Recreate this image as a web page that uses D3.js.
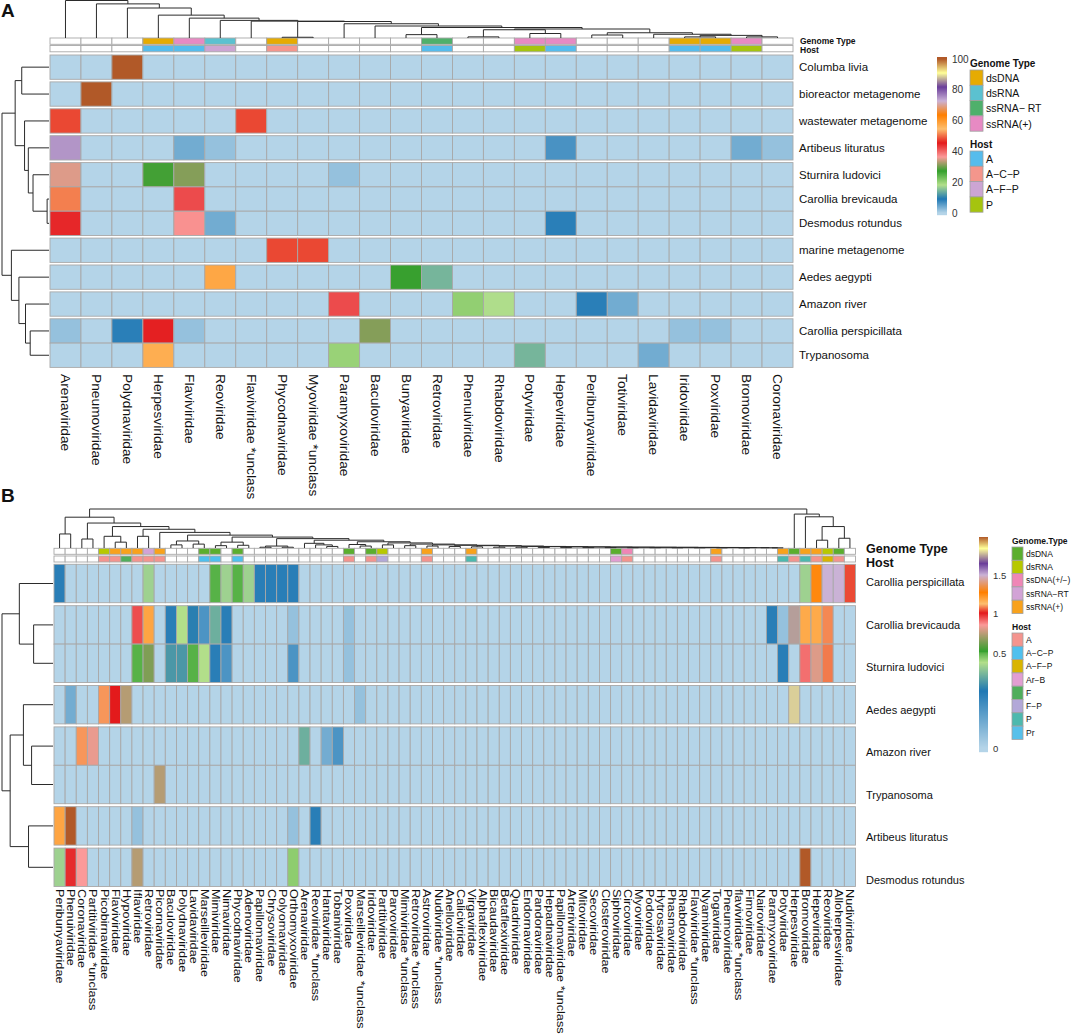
<!DOCTYPE html>
<html>
<head>
<meta charset="utf-8">
<title>Virus family heatmaps</title>
<script src="https://cdn.jsdelivr.net/npm/d3@7"></script>
<style>
  body { margin: 0; background: #fff; }
  svg text { font-family: "Liberation Sans", Arial, Helvetica, sans-serif; fill: #111; }
</style>
</head>
<body>
<svg id="chart" width="1072" height="1036"></svg>
<script>
// ---------- panel A data ----------
const colsA = ["Arenaviridae", "Pneumoviridae", "Polydnaviridae", "Herpesviridae", "Flaviviridae",
  "Reoviridae", "Flaviviridae *unclass", "Phycodnaviridae", "Myoviridae *unclass", "Paramyxoviridae",
  "Baculoviridae", "Bunyaviridae", "Retroviridae", "Phenuiviridae", "Rhabdoviridae", "Potyviridae",
  "Hepeviridae", "Peribunyaviridae", "Totiviridae", "Lavidaviridae", "Iridoviridae", "Poxviridae",
  "Bromoviridae", "Coronaviridae"];
const rowsA = ["Columba livia", "bioreactor metagenome", "wastewater metagenome", "Artibeus lituratus",
  "Sturnira ludovici", "Carollia brevicauda", "Desmodus rotundus", "marine metagenome", "Aedes aegypti",
  "Amazon river", "Carollia perspicillata", "Trypanosoma"];
const rowGroupsA = [0, 1, 2, 3, 4, 4, 4, 5, 6, 7, 8, 8];
// [row, column, value]; cells not listed are 0
const cellsA = [
  ["Columba livia", "Polydnaviridae", 100],
  ["bioreactor metagenome", "Pneumoviridae", 100],
  ["wastewater metagenome", "Arenaviridae", 48],
  ["wastewater metagenome", "Flaviviridae *unclass", 48],
  ["Artibeus lituratus", "Arenaviridae", 75],
  ["Artibeus lituratus", "Flaviviridae", 4],
  ["Artibeus lituratus", "Reoviridae", 1.9],
  ["Artibeus lituratus", "Hepeviridae", 6.5],
  ["Artibeus lituratus", "Bromoviridae", 4],
  ["Artibeus lituratus", "Coronaviridae", 1.9],
  ["Sturnira ludovici", "Arenaviridae", 35],
  ["Sturnira ludovici", "Herpesviridae", 28],
  ["Sturnira ludovici", "Flaviviridae", 31],
  ["Sturnira ludovici", "Paramyxoviridae", 1.9],
  ["Carollia brevicauda", "Arenaviridae", 51],
  ["Carollia brevicauda", "Flaviviridae", 42],
  ["Desmodus rotundus", "Arenaviridae", 44.5],
  ["Desmodus rotundus", "Flaviviridae", 37],
  ["Desmodus rotundus", "Reoviridae", 4],
  ["Desmodus rotundus", "Hepeviridae", 8.4],
  ["marine metagenome", "Phycodnaviridae", 48],
  ["marine metagenome", "Myoviridae *unclass", 48],
  ["Aedes aegypti", "Reoviridae", 58],
  ["Aedes aegypti", "Bunyaviridae", 27.5],
  ["Aedes aegypti", "Retroviridae", 14.5],
  ["Amazon river", "Paramyxoviridae", 42],
  ["Amazon river", "Phenuiviridae", 20.5],
  ["Amazon river", "Rhabdoviridae", 18],
  ["Amazon river", "Peribunyaviridae", 8.4],
  ["Amazon river", "Totiviridae", 4],
  ["Carollia perspicillata", "Arenaviridae", 1.9],
  ["Carollia perspicillata", "Polydnaviridae", 8.4],
  ["Carollia perspicillata", "Herpesviridae", 45],
  ["Carollia perspicillata", "Flaviviridae", 1.9],
  ["Carollia perspicillata", "Baculoviridae", 31],
  ["Carollia perspicillata", "Iridoviridae", 1.9],
  ["Carollia perspicillata", "Poxviridae", 1.9],
  ["Trypanosoma", "Herpesviridae", 57],
  ["Trypanosoma", "Paramyxoviridae", 20],
  ["Trypanosoma", "Potyviridae", 14.5],
  ["Trypanosoma", "Lavidaviridae", 4]
];
const genomeA = { "Herpesviridae": "dsDNA", "Flaviviridae": "ssRNA(+)", "Reoviridae": "dsRNA",
  "Phycodnaviridae": "dsDNA", "Retroviridae": "ssRNA− RT", "Potyviridae": "ssRNA(+)",
  "Hepeviridae": "ssRNA(+)", "Iridoviridae": "dsDNA", "Poxviridae": "dsDNA", "Bromoviridae": "ssRNA(+)" };
const hostA = { "Herpesviridae": "A", "Flaviviridae": "A", "Reoviridae": "A−F−P",
  "Phycodnaviridae": "A−C−P", "Retroviridae": "A", "Potyviridae": "P",
  "Hepeviridae": "A", "Iridoviridae": "A", "Poxviridae": "A", "Bromoviridae": "P" };
const genomeKeysA = ["dsDNA", "dsRNA", "ssRNA− RT", "ssRNA(+)"];
const genomeColorsA = ["#E6AB02", "#5BC1D0", "#4FB06B", "#E78AC3"];
const hostKeysA = ["A", "A−C−P", "A−F−P", "P"];
const hostColorsA = ["#56BCEC", "#F4968C", "#CCA5D3", "#A5C40F"];
const ticksA = [0, 20, 40, 60, 80, 100];
// dendrograms: [height, left, right], leaves are indices into the column / row lists
const colTreeA = [100, 0, [91, 1, [80, 2, [61, 3, [53, 4, [47, 5, [45, 6, [44, [2, 7, 8],
  [38, 9, [32, 10, [28, [9, 11, 12], [24, [22, [3, 13, 14], [12, 15, 16]],
  [14, [8, 17, 18], [10, 19, [7, [3, 20, 21], [3, 22, 23]]]]]]]]]]]]]]]];
const rowTreeA = [100, [72, [58, 0, 1], [52, 2, [44, 3, [34, 4, [4, 5, 6]]]]],
  [80, 7, [64, 8, [50, 9, [40, 10, 11]]]]];

// ---------- panel B data ----------
const colsB = ["Peribunyaviridae", "Phenuiviridae", "Coronaviridae", "Partitiviridae *unclass",
  "Picobirnaviridae", "Flaviviridae", "Hypoviridae", "Iflaviridae", "Retroviridae", "Picornaviridae",
  "Baculoviridae", "Polydnaviridae", "Lavidaviridae", "Marseilleviridae", "Mimiviridae", "Nimaviridae",
  "Phycodnaviridae", "Adenoviridae", "Papillomaviridae", "Chrysoviridae", "Polyomaviridae",
  "Orthomyxoviridae", "Arenaviridae", "Reoviridae *unclass", "Hantaviridae", "Tobaniviridae",
  "Poxviridae", "Marseilleviridae *unclass", "Iridoviridae", "Partitiviridae", "Parvoviridae",
  "Mimiviridae *unclass", "Retroviridae *unclass", "Astroviridae", "Nudiviridae *unclass",
  "Anelloviridae", "Caliciviridae", "Virgaviridae", "Alphaflexiviridae", "Bicaudaviridae",
  "Betaflexiviridae", "Quadriviridae", "Endornaviridae", "Pandoraviridae", "Hepadnaviridae",
  "Papillomaviridae *unclass", "Arteriviridae", "Mitoviridae", "Secoviridae", "Closteroviridae",
  "Siphoviridae", "Circoviridae", "Myoviridae", "Podoviridae", "Hytrosaviridae", "Phasmaviridae",
  "Rhabdoviridae", "Flaviviridae *unclass", "Nyamiviridae", "Togaviridae", "Pneumoviridae",
  "flaviviridae *unclass", "Fimoviridae", "Nairoviridae", "Paramyxoviridae", "Potyviridae",
  "Herpesviridae", "Bromoviridae", "Hepeviridae", "Reoviridae", "Alloherpesviridae", "Nudiviridae"];
const rowsB = ["Carollia perspicillata", "Carollia brevicauda", "Sturnira ludovici", "Aedes aegypti",
  "Amazon river", "Trypanosoma", "Artibeus lituratus", "Desmodus rotundus"];
const rowGroupsB = [0, 1, 1, 2, 3, 3, 4, 5];
const cellsB = [
  ["Carollia perspicillata", "Peribunyaviridae", 0.28],
  ["Carollia perspicillata", "Retroviridae", 0.43],
  ["Carollia perspicillata", "Mimiviridae", 0.5],
  ["Carollia perspicillata", "Nimaviridae", 0.43],
  ["Carollia perspicillata", "Phycodnaviridae", 0.5],
  ["Carollia perspicillata", "Adenoviridae", 0.43],
  ["Carollia perspicillata", "Papillomaviridae", 0.28],
  ["Carollia perspicillata", "Chrysoviridae", 0.28],
  ["Carollia perspicillata", "Polyomaviridae", 0.28],
  ["Carollia perspicillata", "Orthomyxoviridae", 0.28],
  ["Carollia perspicillata", "Bromoviridae", 0.43],
  ["Carollia perspicillata", "Hepeviridae", 1.25],
  ["Carollia perspicillata", "Reoviridae", 1.5],
  ["Carollia perspicillata", "Alloherpesviridae", 1.5],
  ["Carollia perspicillata", "Nudiviridae", 1.035],
  ["Carollia brevicauda", "Iflaviridae", 0.94],
  ["Carollia brevicauda", "Retroviridae", 1.18],
  ["Carollia brevicauda", "Baculoviridae", 0.28],
  ["Carollia brevicauda", "Polydnaviridae", 0.45],
  ["Carollia brevicauda", "Lavidaviridae", 0.31],
  ["Carollia brevicauda", "Marseilleviridae", 0.21],
  ["Carollia brevicauda", "Mimiviridae", 0.38],
  ["Carollia brevicauda", "Nimaviridae", 0.28],
  ["Carollia brevicauda", "Orthomyxoviridae", 0.063],
  ["Carollia brevicauda", "Poxviridae", 0.063],
  ["Carollia brevicauda", "Paramyxoviridae", 0.28],
  ["Carollia brevicauda", "Potyviridae", 0.063],
  ["Carollia brevicauda", "Herpesviridae", 1.75],
  ["Carollia brevicauda", "Bromoviridae", 1.17],
  ["Carollia brevicauda", "Hepeviridae", 1.17],
  ["Carollia brevicauda", "Reoviridae", 1.08],
  ["Sturnira ludovici", "Iflaviridae", 0.5],
  ["Sturnira ludovici", "Retroviridae", 0.645],
  ["Sturnira ludovici", "Baculoviridae", 0.345],
  ["Sturnira ludovici", "Polydnaviridae", 0.345],
  ["Sturnira ludovici", "Lavidaviridae", 0.5],
  ["Sturnira ludovici", "Marseilleviridae", 0.45],
  ["Sturnira ludovici", "Mimiviridae", 0.28],
  ["Sturnira ludovici", "Nimaviridae", 0.21],
  ["Sturnira ludovici", "Orthomyxoviridae", 0.21],
  ["Sturnira ludovici", "Poxviridae", 0.063],
  ["Sturnira ludovici", "Potyviridae", 0.28],
  ["Sturnira ludovici", "Bromoviridae", 0.9],
  ["Sturnira ludovici", "Hepeviridae", 0.8],
  ["Sturnira ludovici", "Reoviridae", 1.07],
  ["Aedes aegypti", "Phenuiviridae", 0.13],
  ["Aedes aegypti", "Picobirnaviridae", 1.09],
  ["Aedes aegypti", "Flaviviridae", 1.0],
  ["Aedes aegypti", "Hypoviridae", 0.735],
  ["Aedes aegypti", "Marseilleviridae *unclass", 0.063],
  ["Aedes aegypti", "Herpesviridae", 1.8],
  ["Amazon river", "Coronaviridae", 1.09],
  ["Amazon river", "Partitiviridae *unclass", 0.82],
  ["Amazon river", "Arenaviridae", 0.38],
  ["Amazon river", "Hantaviridae", 0.13],
  ["Amazon river", "Tobaniviridae", 0.21],
  ["Trypanosoma", "Picornaviridae", 0.735],
  ["Artibeus lituratus", "Peribunyaviridae", 1.18],
  ["Artibeus lituratus", "Phenuiviridae", 2.0],
  ["Artibeus lituratus", "Iflaviridae", 0.063],
  ["Artibeus lituratus", "Orthomyxoviridae", 0.063],
  ["Artibeus lituratus", "Reoviridae *unclass", 0.28],
  ["Desmodus rotundus", "Peribunyaviridae", 0.43],
  ["Desmodus rotundus", "Phenuiviridae", 0.98],
  ["Desmodus rotundus", "Coronaviridae", 0.85],
  ["Desmodus rotundus", "Iflaviridae", 0.735],
  ["Desmodus rotundus", "Orthomyxoviridae", 0.47],
  ["Desmodus rotundus", "Bromoviridae", 2.0]
];
const genomeB = { "Picobirnaviridae": "dsRNA", "Flaviviridae": "ssRNA(+)", "Hypoviridae": "ssRNA(+)",
  "Iflaviridae": "ssRNA(+)", "Retroviridae": "ssRNA−RT", "Picornaviridae": "ssRNA(+)",
  "Marseilleviridae": "dsDNA", "Mimiviridae": "dsDNA", "Phycodnaviridae": "dsDNA", "Poxviridae": "dsDNA",
  "Iridoviridae": "dsDNA", "Partitiviridae": "dsRNA", "Astroviridae": "ssRNA(+)", "Virgaviridae": "ssRNA(+)",
  "Siphoviridae": "dsDNA", "Circoviridae": "ssDNA(+/−)", "Togaviridae": "ssRNA(+)", "Potyviridae": "ssRNA(+)",
  "Herpesviridae": "dsDNA", "Bromoviridae": "ssRNA(+)", "Hepeviridae": "ssRNA(+)", "Reoviridae": "dsRNA",
  "Alloherpesviridae": "dsDNA" };
const hostB = { "Picobirnaviridae": "A", "Flaviviridae": "A", "Hypoviridae": "F", "Iflaviridae": "A",
  "Retroviridae": "A", "Picornaviridae": "A", "Marseilleviridae": "A−C−P", "Mimiviridae": "A−C−P",
  "Phycodnaviridae": "A−C−P", "Poxviridae": "A", "Iridoviridae": "A", "Partitiviridae": "F−P",
  "Astroviridae": "A", "Virgaviridae": "P", "Siphoviridae": "Ar−B", "Circoviridae": "A", "Togaviridae": "A",
  "Potyviridae": "P", "Herpesviridae": "A", "Bromoviridae": "P", "Hepeviridae": "A", "Reoviridae": "A−F−P",
  "Alloherpesviridae": "A" };
const genomeKeysB = ["dsDNA", "dsRNA", "ssDNA(+/−)", "ssRNA−RT", "ssRNA(+)"];
const genomeColorsB = ["#5BAE2E", "#B7C800", "#EF86B6", "#D2A3D6", "#F8A21C"];
const hostKeysB = ["A", "A−C−P", "A−F−P", "Ar−B", "F", "F−P", "P", "Pr"];
const hostColorsB = ["#F4948E", "#4FC0EE", "#D9B500", "#E29ED2", "#50AE5C", "#B2A8D8", "#4DB9AE", "#57C0EA"];
const ticksB = [0, 0.5, 1, 1.5];
const colTreeB =
[100,
  [79, [36, 0, 1],
  [64, [23, 2, 3],
  [55, [30, 4, [15, 5, 6]],
  [48, [30, 7, 8],
  [40, 9,
  [33, [18, [8, 10, 11], [10, 12, 13]],
  [28, [15, [6, 14, 15], [7, 16, 17]],
  [24, [5, [2, 18, 19], [2, 20, 21]],
  [20, [12, 22, [8, 23, [4, 24, 25]]],
  [16, [9, 26, [5, 27, 28]],
  [13, [8, 29, 30],
  [10, [6, 31, 32],
  [8, [5, 33, 34],
  [7, [4, 35, 36],
  [6, [3, 37, 38],
  [5, [2, 39, 40],
  [4, [2, 41, 42],
  [3.5, [1.5, 43, 44],
  [3, [1, 45, 46],
  [2.5, [1, 47, 48],
  [2.2, [1, 49, 50],
  [2, [0.8, 51, 52],
  [1.8, [0.8, 53, 54],
  [1.6, [0.6, 55, 56],
  [1.4, [0.6, 57, 58],
  [1.2, [0.5, 59, 60],
  [1, [0.4, 61, 62],
  [0.8, 63, [0.5, 64, 65]]
  ]]]]]]]]]]]]]]]]]]]]]]]]]]],
  [87, 66, [80, 67, [55, [20, 68, 69], [25, 70, 71]]]]
];
const rowTreeB = [100, [66, 0, [38, 1, 2]], [84, [58, 3, [42, 4, 5]], [48, 6, 7]]];

// ---------- colour scales ----------
const paired = ["#B4D4E8", "#1F78B4", "#B2DF8A", "#33A02C", "#FB9A99", "#E31A1C",
  "#FDBF6F", "#FF7F00", "#CAB2D6", "#6A3D9A", "#FFFF99", "#B15928"];
const colorA = d3.scaleLinear().domain(paired.map((_, i) => i * 100 / (paired.length - 1))).range(paired).clamp(true);
const colorB = d3.scaleLinear()
  .domain([0, 0.3, 0.45, 0.52, 0.85, 1.0, 1.12, 1.27, 1.5, 1.65, 1.85, 2.0])
  .range(paired).clamp(true);

const svg = d3.select('#chart');
const GRID = '#a8a8a8';
svg.append('rect').attr('width', 1072).attr('height', 1036).attr('fill', '#fff');

function drawTopTree(g, tree, xOf, yOf, leafY) {
  (function walk(node) {
    if (!Array.isArray(node)) return [xOf(node), leafY];
    const [h, l, r] = node;
    const a = walk(l), b = walk(r), y = yOf(h);
    g.append('path').attr('d', `M${a[0]},${a[1]}V${y}H${b[0]}V${b[1]}`);
    return [(a[0] + b[0]) / 2, y];
  })(tree);
}

function drawLeftTree(g, tree, yOf, xOf, leafX) {
  (function walk(node) {
    if (!Array.isArray(node)) return [leafX, yOf(node)];
    const [h, l, r] = node;
    const a = walk(l), b = walk(r), x = xOf(h);
    g.append('path').attr('d', `M${a[0]},${a[1]}H${x}V${b[1]}H${b[0]}`);
    return [x, (a[1] + b[1]) / 2];
  })(tree);
}

function drawPanel(p) {
  const g = svg.append('g');
  const x = d3.scaleBand().domain(p.cols).range(p.xRange);
  const bandY = d3.scaleBand().domain(p.rows).range([p.y0, p.y0 + p.rows.length * p.rowH]);
  const y = r => bandY(r) + p.groups[p.rows.indexOf(r)] * p.gap;
  const value = new Map(p.cells.map(([r, c, v]) => [r + '|' + c, v]));

  g.append('g').selectAll('rect')
    .data(d3.cross(p.rows, p.cols))
    .join('rect')
    .attr('x', d => x(d[1]))
    .attr('y', d => y(d[0]))
    .attr('width', x.bandwidth())
    .attr('height', bandY.bandwidth())
    .attr('fill', d => p.color(value.get(d[0] + '|' + d[1]) || 0))
    .attr('stroke', GRID)
    .attr('stroke-width', 0.9);

  // annotation tracks above the heatmap
  p.tracks.forEach(t => {
    g.append('g').selectAll('rect')
      .data(p.cols)
      .join('rect')
      .attr('x', c => x(c))
      .attr('y', t.y)
      .attr('width', x.bandwidth())
      .attr('height', p.trackH)
      .attr('fill', c => t.map[c] ? t.color(t.map[c]) : '#fff')
      .attr('stroke', GRID)
      .attr('stroke-width', 0.9);
    g.append('text')
      .attr('x', p.trackLabelX)
      .attr('y', t.labelY)
      .style('font-size', p.trackFont)
      .style('font-weight', 'bold')
      .text(t.name);
  });

  // row labels
  const labelY = p.rowLabelRange
    ? d3.scalePoint().domain(p.rows).range(p.rowLabelRange)
    : r => y(r) + bandY.bandwidth() / 2;
  g.append('g').selectAll('text')
    .data(p.rows)
    .join('text')
    .attr('x', p.rowLabelX)
    .attr('y', r => labelY(r))
    .attr('dominant-baseline', 'central')
    .style('font-size', p.rowFont)
    .text(r => r);

  // column labels (stretched along the reading direction like the original)
  g.append('g').selectAll('text')
    .data(p.cols)
    .join('text')
    .attr('transform', c => `translate(${x(c) + x.bandwidth() / 2},${p.colLabelY}) rotate(90) scale(${p.colStretch},1)`)
    .attr('dominant-baseline', 'central')
    .style('font-size', p.colFont)
    .text(c => c);

  // dendrograms
  const dg = g.append('g').attr('fill', 'none').attr('stroke', '#2b2b2b').attr('stroke-width', 1);
  const topY = d3.scaleLinear().domain([0, 100]).range(p.topTreeRange);
  drawTopTree(dg, p.colTree, i => x(p.cols[i]) + x.bandwidth() / 2, topY, p.topTreeRange[0]);
  const leftX = d3.scaleLinear().domain([0, 100]).range(p.leftTreeRange);
  drawLeftTree(dg, p.rowTree, i => y(p.rows[i]) + bandY.bandwidth() / 2, leftX, p.leftTreeRange[0]);
}

function drawLegend(l) {
  const g = svg.append('g');
  const ly = d3.scaleLinear().domain(l.tickDomain).range(l.tickRange).clamp(true);
  g.append('g').selectAll('rect')
    .data(d3.range(l.barTop, l.barBottom, 1))
    .join('rect')
    .attr('x', l.barX)
    .attr('y', d => d)
    .attr('width', l.barW)
    .attr('height', 1.2)
    .attr('fill', d => l.color(ly.invert(d + 0.5)));
  g.append('g').selectAll('text')
    .data(l.ticks)
    .join('text')
    .attr('x', l.tickX)
    .attr('y', d => ly(d))
    .attr('dominant-baseline', 'central')
    .style('font-size', l.tickFont)
    .style('fill', '#333')
    .text(d => d);

  l.blocks.forEach(b => {
    g.append('text')
      .attr('x', l.swX)
      .attr('y', b.titleY)
      .attr('dominant-baseline', 'central')
      .style('font-size', l.titleFont)
      .style('font-weight', 'bold')
      .text(b.title);
    const sw = g.append('g').selectAll('g')
      .data(b.keys)
      .join('g')
      .attr('transform', (k, i) => `translate(${l.swX},${b.y0 + i * l.swH})`);
    sw.append('rect')
      .attr('width', l.swW)
      .attr('height', l.swH)
      .attr('fill', (k, i) => b.colors[i])
      .attr('stroke', '#a0a0a0')
      .attr('stroke-width', 0.8);
    sw.append('text')
      .attr('x', l.swW + 3)
      .attr('y', l.swH / 2)
      .attr('dominant-baseline', 'central')
      .style('font-size', l.labelFont)
      .text(k => k);
  });
}

const genomeScaleA = d3.scaleOrdinal(genomeKeysA, genomeColorsA);
const hostScaleA = d3.scaleOrdinal(hostKeysA, hostColorsA);
const genomeScaleB = d3.scaleOrdinal(genomeKeysB, genomeColorsB);
const hostScaleB = d3.scaleOrdinal(hostKeysB, hostColorsB);

drawPanel({
  cols: colsA, rows: rowsA, groups: rowGroupsA, cells: cellsA, color: colorA,
  xRange: [50, 793], y0: 55, rowH: 24.3, gap: 2.6,
  tracks: [
    { name: 'Genome Type', map: genomeA, color: genomeScaleA, y: 38, labelY: 43.5 },
    { name: 'Host', map: hostA, color: hostScaleA, y: 45.5, labelY: 53 }
  ],
  trackH: 6.3, trackLabelX: 800, trackFont: '8.5px',
  rowLabelX: 799, rowFont: '11.5px',
  colLabelY: 374, colFont: '13px', colStretch: 1.06,
  colTree: colTreeA, topTreeRange: [38, 0.5],
  rowTree: rowTreeA, leftTreeRange: [49, 2]
});

drawPanel({
  cols: colsB, rows: rowsB, groups: rowGroupsB, cells: cellsB, color: colorB,
  xRange: [54, 855.5], y0: 564.3, rowH: 38.4, gap: 3,
  tracks: [
    { name: 'Genome Type', map: genomeB, color: genomeScaleB, y: 548.3, labelY: 553 },
    { name: 'Host', map: hostB, color: hostScaleB, y: 556, labelY: 567 }
  ],
  trackH: 6, trackLabelX: 866, trackFont: '12.5px',
  rowLabelX: 866, rowFont: '11px', rowLabelRange: [582, 880],
  colLabelY: 889, colFont: '10px', colStretch: 1.27,
  colTree: colTreeB, topTreeRange: [548, 509],
  rowTree: rowTreeB, leftTreeRange: [53, 2]
});

drawLegend({
  color: colorA, tickDomain: [0, 100], tickRange: [213, 59], ticks: ticksA,
  barX: 937, barW: 10, barTop: 57, barBottom: 215, tickX: 952, tickFont: '10px',
  swX: 970, swW: 13, swH: 15.3, titleFont: '10px', labelFont: '10.5px',
  blocks: [
    { title: 'Genome Type', titleY: 63, y0: 70, keys: genomeKeysA, colors: genomeColorsA },
    { title: 'Host', titleY: 144, y0: 151, keys: hostKeysA, colors: hostColorsA }
  ]
});

drawLegend({
  color: colorB, tickDomain: [0, 0.5, 1, 1.5, 2], tickRange: [748, 653, 613, 575, 537], ticks: ticksB,
  barX: 979, barW: 9, barTop: 537, barBottom: 752, tickX: 993, tickFont: '9.5px',
  swX: 1012, swW: 11, swH: 13.3, titleFont: '8.5px', labelFont: '8.5px',
  blocks: [
    { title: 'Genome.Type', titleY: 541, y0: 547, keys: genomeKeysB, colors: genomeColorsB },
    { title: 'Host', titleY: 627, y0: 633, keys: hostKeysB, colors: hostColorsB }
  ]
});

// panel letters
svg.append('text').attr('x', 1).attr('y', 17).style('font-size', '19px').style('font-weight', 'bold').text('A');
svg.append('text').attr('x', 1).attr('y', 502).style('font-size', '19px').style('font-weight', 'bold').text('B');
</script>
</body>
</html>
